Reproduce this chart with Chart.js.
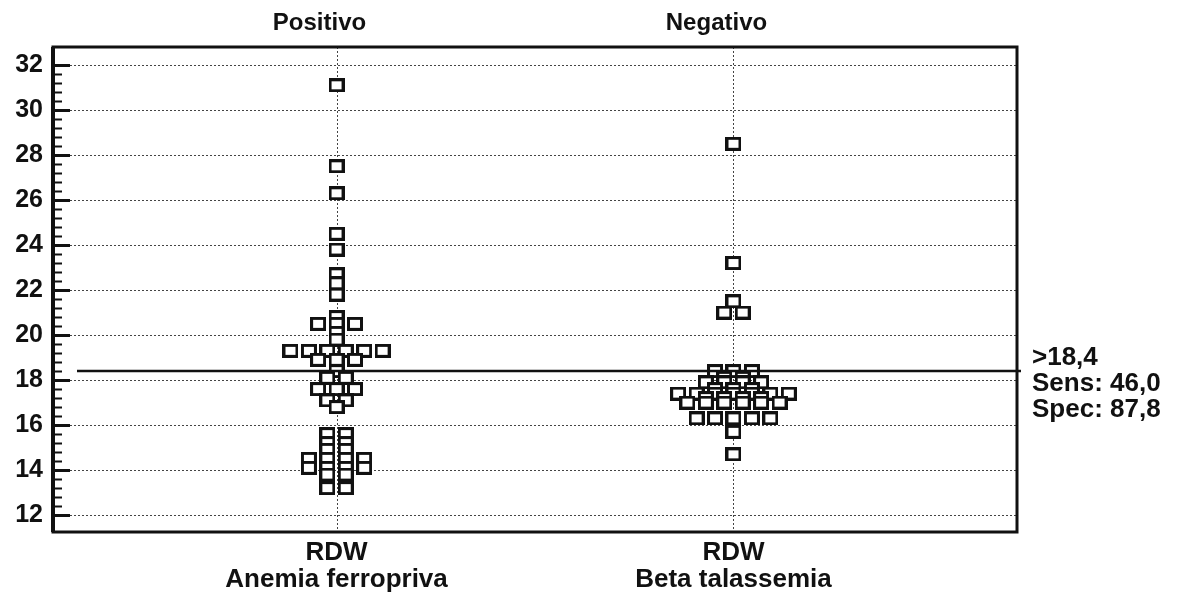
<!DOCTYPE html>
<html>
<head>
<meta charset="utf-8">
<script src="https://cdn.jsdelivr.net/npm/chart.js@4.4.1/dist/chart.umd.min.js"></script>
<style>
  html, body { margin: 0; padding: 0; background: #fff; }
  #wrap { width: 1181px; height: 594px; }
</style>
</head>
<body>
<div id="wrap"><canvas id="grafico" width="1181" height="594"></canvas></div>
<script>
// --- dados (diagrama de pontos) ---
const grupos = ['Positivo', 'Negativo'];
const variavel = 'RDW';
const descricoes = ['Anemia ferropriva', 'Beta talassemia'];
const posicoesX = [1, 2.4];

const rdwPositivo = [
  31.1, 27.5, 26.3, 24.5, 23.8, 22.7, 22.3, 21.8,
  20.8, 20.5, 20.5, 20.5, 20.1, 19.8,
  19.3, 19.3, 19.3, 19.3, 19.3, 19.3,
  18.9, 18.9, 18.9,
  18.4, 18.1, 18.1, 17.6, 17.6, 17.6, 17.1, 17.1, 16.8,
  15.6, 15.6, 15.2, 15.2, 14.9, 14.9,
  14.5, 14.5, 14.5, 14.5, 14.1, 14.1, 14.1, 14.1,
  13.8, 13.8, 13.2, 13.2
];
const rdwNegativo = [
  28.5, 23.2, 21.5, 21.0, 21.0,
  18.4, 18.4, 18.4, 18.1, 18.1,
  17.9, 17.9, 17.9, 17.9, 17.6, 17.6, 17.6,
  17.4, 17.4, 17.4, 17.4, 17.4, 17.4, 17.4,
  17.2, 17.2, 17.2, 17.2,
  17.0, 17.0, 17.0, 17.0, 17.0, 17.0,
  16.3, 16.3, 16.3, 16.3, 16.3, 15.7, 14.7
];

const corte = 18.4;
const textoCorte = ['>18,4', 'Sens: 46,0', 'Spec: 87,8'];
const ticksY = [12, 14, 16, 18, 20, 22, 24, 26, 28, 30, 32];

// --- layout ---
const passoX = 0.065;      // distância horizontal entre pontos iguais (unidades de x)
const fonte = 'Liberation Sans';
const preto = '#111';

// pontos com o mesmo valor ficam lado a lado
function espalhar(valores, centro) {
  const contagem = {};
  valores.forEach(v => contagem[v] = (contagem[v] || 0) + 1);
  const usados = {};
  return valores.map(v => {
    usados[v] = usados[v] === undefined ? 0 : usados[v] + 1;
    return { x: centro + (usados[v] - (contagem[v] - 1) / 2) * passoX, y: v };
  });
}

// quadradinho vazado um pouco mais largo que alto (como no original)
function criarMarcador() {
  const c = document.createElement('canvas');
  c.width = 16; c.height = 14;
  const g = c.getContext('2d');
  g.fillStyle = preto;
  g.fillRect(0, 0, 16, 14);
  g.fillStyle = '#fff';
  g.fillRect(3, 3, 10, 8);
  return c;
}
const marcador = criarMarcador();

const fundo = {
  id: 'fundo',
  beforeDatasetsDraw(chart) {
    const { ctx, chartArea: a, scales: { x, y } } = chart;
    ctx.save();
    ctx.strokeStyle = '#444';
    ctx.lineWidth = 1;
    ctx.setLineDash([2, 2]);
    ticksY.forEach(v => {
      const py = Math.round(y.getPixelForValue(v)) + 0.5;
      ctx.beginPath(); ctx.moveTo(a.left + 17, py); ctx.lineTo(a.right, py); ctx.stroke();
    });
    posicoesX.forEach(v => {
      const px = Math.round(x.getPixelForValue(v)) + 0.5;
      ctx.beginPath(); ctx.moveTo(px, a.top); ctx.lineTo(px, a.bottom); ctx.stroke();
    });
    ctx.restore();
  }
};

const frente = {
  id: 'frente',
  afterDatasetsDraw(chart) {
    const { ctx, chartArea: a, scales: { y } } = chart;
    ctx.save();
    // linha de corte
    const yc = y.getPixelForValue(corte);
    ctx.strokeStyle = preto;
    ctx.lineWidth = 2.5;
    ctx.beginPath(); ctx.moveTo(a.left + 24, yc); ctx.lineTo(a.right + 4, yc); ctx.stroke();

    // moldura
    ctx.lineWidth = 3;
    ctx.strokeRect(a.left, a.top, a.right - a.left, a.bottom - a.top);
    ctx.lineWidth = 4;
    ctx.beginPath(); ctx.moveTo(a.left, a.top); ctx.lineTo(a.left, a.bottom); ctx.stroke();

    // marcas do eixo y (para dentro)
    for (let v = ticksY[0]; v <= ticksY[ticksY.length - 1] + 1e-6; v += 0.4) {
      const py = Math.round(y.getPixelForValue(v)) + 0.5;
      const maior = Math.abs(v / 2 - Math.round(v / 2)) < 1e-6;
      ctx.lineWidth = maior ? 3 : 2;
      ctx.beginPath(); ctx.moveTo(a.left, py); ctx.lineTo(a.left + (maior ? 17 : 9), py); ctx.stroke();
    }

    // texto do critério
    ctx.fillStyle = preto;
    ctx.font = 'bold 26px "' + fonte + '"';
    ctx.textAlign = 'left';
    ctx.textBaseline = 'middle';
    textoCorte.forEach((t, i) => ctx.fillText(t, a.right + 15, yc - 13 + i * 26));
    ctx.restore();
  }
};

const estiloPonto = {
  pointStyle: marcador,
  pointRadius: 8,
  pointHoverRadius: 8
};

new Chart(document.getElementById('grafico'), {
  type: 'scatter',
  data: {
    datasets: [
      { label: grupos[0], data: espalhar(rdwPositivo, posicoesX[0]), ...estiloPonto },
      { label: grupos[1], data: espalhar(rdwNegativo, posicoesX[1]), ...estiloPonto }
    ]
  },
  options: {
    responsive: false,
    animation: false,
    devicePixelRatio: 1,
    layout: { padding: { right: 164, left: 0, top: 0, bottom: 0 } },
    plugins: { legend: { display: false }, tooltip: { enabled: false } },
    scales: {
      x: {
        type: 'linear', position: 'bottom', min: 0, max: 3.4,
        afterBuildTicks: s => { s.ticks = posicoesX.map(v => ({ value: v })); },
        afterFit: s => { s.height = 62; },
        grid: { display: false }, border: { display: false },
        ticks: {
          padding: -1, maxRotation: 0, autoSkip: false, color: preto,
          font: { family: fonte, size: 26, weight: 'bold', lineHeight: 1.04 },
          callback: (v, i) => [variavel, descricoes[i]]
        }
      },
      x2: {
        type: 'linear', position: 'top', min: 0, max: 3.4,
        afterBuildTicks: s => { s.ticks = posicoesX.map(v => ({ value: v })); },
        afterFit: s => { s.height = 47; },
        grid: { display: false }, border: { display: false },
        ticks: {
          padding: 3, maxRotation: 0, autoSkip: false, color: preto, labelOffset: -17,
          font: { family: fonte, size: 24, weight: 'bold', lineHeight: 1.08 },
          callback: (v, i) => grupos[i]
        }
      },
      y: {
        type: 'linear', min: 11.25, max: 32.8,
        afterBuildTicks: s => { s.ticks = ticksY.map(v => ({ value: v })); },
        afterFit: s => { s.width = 53; },
        grid: { display: false }, border: { display: false },
        ticks: {
          padding: 2, color: preto,
          font: { family: fonte, size: 25, weight: 'bold' },
          callback: v => v
        }
      }
    }
  },
  plugins: [fundo, frente]
});
</script>
</body>
</html>
